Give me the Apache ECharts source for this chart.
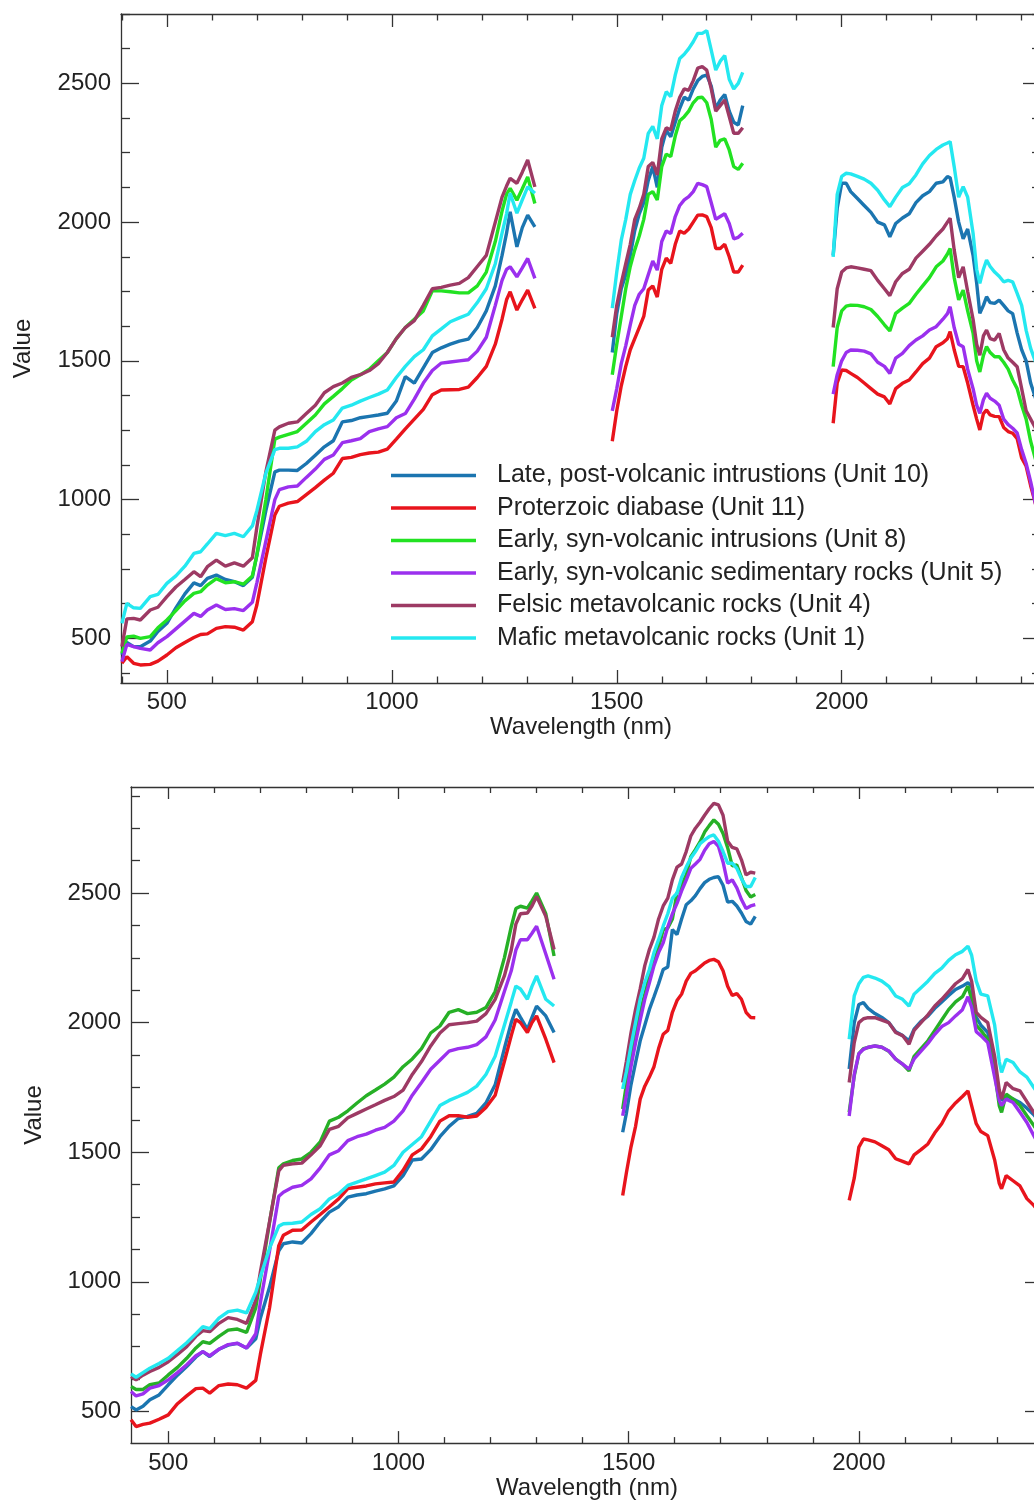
<!DOCTYPE html>
<html><head><meta charset="utf-8">
<script src="https://cdn.jsdelivr.net/npm/echarts@6/dist/echarts.min.js"></script>
<style>html,body{margin:0;padding:0;background:#fff;overflow:hidden}#c{width:1100px;height:1501px}</style>
</head><body><div id="c"></div>
<script>
// ---------- labels ----------
const seriesNames = [
  'Late, post-volcanic intrustions (Unit 10)',
  'Proterzoic diabase (Unit 11)',
  'Early, syn-volcanic intrusions (Unit 8)',
  'Early, syn-volcanic sedimentary rocks (Unit 5)',
  'Felsic metavolcanic rocks (Unit 4)',
  'Mafic metavolcanic rocks (Unit 1)'
];
const xTitle = 'Wavelength (nm)';
const yTitle = 'Value';

// ---------- tick values ----------
const xMajorTicks = [500, 1000, 1500, 2000];
const xMinorTicksTop = [400, 600, 700, 800, 900, 1100, 1200, 1300, 1400, 1600, 1700, 1800, 1900, 2100, 2200, 2300, 2400];
const xMinorTicksBottom = [600, 700, 800, 900, 1100, 1200, 1300, 1400, 1600, 1700, 1800, 1900, 2100, 2200, 2300];
const yMajorTicks = [500, 1000, 1500, 2000, 2500];
const yMinorTicksTop = [375, 625, 750, 875, 1125, 1250, 1375, 1625, 1750, 1875, 2125, 2250, 2375, 2625, 2750];
const yMinorTicksBottom = [625, 750, 875, 1125, 1250, 1375, 1625, 1750, 1875, 2125, 2250, 2375, 2625, 2750, 2875];

// ---------- top panel wavelengths (gaps marked by null values) ----------
const wlTop = [
  400, 411, 426, 441, 463, 480, 500, 520, 540, 560, 575, 590, 610, 630, 650, 670, 690, 700, 720, 740,
  750, 770, 790, 810, 830, 850, 870, 890, 910, 930, 950, 970, 990, 1010, 1030, 1050, 1070, 1090, 1110, 1130,
  1150, 1170, 1190, 1210, 1230, 1245, 1255, 1263, 1278, 1290, 1302, 1318,
  1400,
  1490, 1500, 1510, 1520, 1530, 1540, 1550, 1560, 1570, 1580, 1590, 1600, 1610, 1620, 1630, 1640, 1650, 1660, 1670, 1680,
  1690, 1700, 1710, 1720, 1730, 1740, 1750, 1760, 1770, 1780,
  1880,
  1981, 1990, 2000, 2010, 2020, 2035, 2050, 2065, 2080, 2095, 2107, 2120, 2135, 2150, 2165, 2180, 2195, 2210, 2225, 2235,
  2241, 2250, 2260, 2270, 2280, 2292, 2300, 2307, 2315, 2322, 2330, 2340, 2350, 2360, 2370, 2380, 2390, 2400, 2410, 2420,
  2430, 2443
];
const topUnit10 = [
  440, 485, 470, 470, 490, 525, 554, 610, 660, 700, 690, 716, 728, 712, 704, 690, 720, 800, 960, 1100,
  1106, 1106, 1105, 1130, 1160, 1190, 1212, 1280, 1285, 1295, 1300, 1305, 1311, 1355, 1443, 1420, 1475, 1530, 1547, 1560,
  1571, 1578, 1620, 1680, 1770, 1880, 1960, 2037, 1911, 1980, 2025, 1983,
  null,
  1530, 1670, 1760, 1810, 1880, 1970, 2030, 2070, 2150, 2200, 2125, 2270, 2330, 2308, 2360, 2410, 2450, 2440, 2480, 2510,
  2525, 2530, 2490, 2410, 2440, 2460, 2400, 2360, 2350, 2420,
  null,
  1880, 2050, 2140, 2140, 2110, 2085, 2060, 2035, 2000, 1990, 1947, 1995, 2015, 2030, 2070, 2095, 2110, 2140, 2145, 2164,
  2160, 2090, 2000, 1940, 1975, 1880, 1780, 1671, 1700, 1731, 1710, 1707, 1719, 1700, 1680, 1670, 1600, 1540, 1500, 1420,
  1370, 1300
];
const topUnit11 = [
  410, 434, 410, 404, 406, 418, 440, 466, 485, 503, 514, 516, 536, 542, 540, 530, 560, 620, 790, 945,
  976, 987, 993, 1018, 1043, 1070, 1095, 1148, 1152, 1162, 1168, 1171, 1182, 1218, 1255, 1290, 1325, 1378, 1395, 1396,
  1397, 1405, 1440, 1480, 1560, 1650, 1720, 1749, 1683, 1720, 1755, 1689,
  null,
  1210, 1320, 1410, 1480, 1540, 1580, 1620, 1660, 1755, 1770, 1730, 1830, 1870, 1851, 1920, 1968, 1960, 1975, 2000, 2025,
  2026, 2020, 1980, 1905, 1905, 1920, 1875, 1820, 1820, 1845,
  null,
  1275, 1420, 1467, 1465, 1455, 1440, 1420, 1400, 1380, 1370, 1345, 1400, 1419, 1431, 1460, 1490, 1510, 1551, 1565, 1580,
  1605, 1540, 1480, 1479, 1420, 1340, 1290, 1251, 1310, 1323, 1305, 1300, 1299, 1260, 1245, 1239, 1220, 1150, 1120, 1050,
  990, 900
];
const topUnit8 = [
  446, 505, 508, 500, 506, 538, 566, 600, 635, 662, 668, 692, 715, 700, 704, 695, 725, 800, 1000, 1218,
  1225, 1235, 1245, 1275, 1305, 1345, 1372, 1400, 1431, 1450, 1470, 1500, 1530, 1580, 1620, 1650, 1680, 1752, 1752, 1749,
  1745, 1745, 1770, 1820, 1930, 2040, 2100, 2122, 2079, 2120, 2163, 2067,
  null,
  1450, 1560, 1660, 1760, 1840, 1900, 1950, 2010, 2100, 2110, 2080, 2200, 2245, 2236, 2310, 2365, 2380, 2400, 2430, 2448,
  2450, 2430, 2370, 2270, 2295, 2300, 2260, 2200, 2190, 2212,
  null,
  1479, 1620, 1680, 1697, 1701, 1700, 1695, 1685, 1660, 1630, 1608, 1671, 1690, 1707, 1740, 1770, 1800, 1839, 1860, 1885,
  1905, 1800, 1720, 1755, 1680, 1600, 1500, 1460, 1520, 1551, 1530, 1515, 1515, 1495, 1470, 1431, 1400, 1340, 1290, 1210,
  1150, 1080
];
const topUnit5 = [
  416, 478, 470, 464, 458, 484, 506, 534, 562, 590, 579, 602, 620, 604, 607, 600, 630, 700, 850, 1000,
  1036, 1046, 1049, 1080, 1110, 1145, 1161, 1205, 1212, 1220, 1245, 1255, 1263, 1295, 1310, 1362, 1420, 1465, 1492, 1496,
  1500, 1504, 1535, 1585, 1700, 1790, 1830, 1839, 1803, 1835, 1869, 1797,
  null,
  1320, 1400, 1490, 1555, 1630, 1700, 1740, 1760, 1810, 1860, 1827, 1930, 1968, 1959, 2020, 2060, 2080, 2092, 2110, 2140,
  2135, 2128, 2070, 2010, 2020, 2030, 1995, 1940, 1945, 1960,
  null,
  1380, 1450, 1500, 1530, 1539, 1538, 1535, 1525, 1495, 1480, 1455, 1510, 1527, 1555, 1575, 1590, 1611, 1623, 1650, 1670,
  1695, 1620, 1560, 1551, 1470, 1400, 1340, 1311, 1360, 1383, 1365, 1355, 1340, 1290, 1270, 1257, 1240, 1180, 1130, 1065,
  990, 900
];
const topUnit4 = [
  470, 570, 572, 566, 602, 612, 650, 685, 712, 740, 722, 758, 782, 760, 772, 760, 790, 900, 1100, 1250,
  1262, 1275, 1280, 1310, 1340, 1385, 1407, 1420, 1440, 1450, 1465, 1490, 1530, 1580, 1620, 1645, 1700, 1760, 1765, 1773,
  1779, 1800, 1840, 1880, 2000, 2090, 2130, 2158, 2140, 2180, 2224, 2127,
  null,
  1585, 1700, 1780, 1850, 1920, 2010, 2050, 2100, 2200, 2215, 2170, 2300, 2340, 2332, 2400, 2450, 2480, 2475, 2510, 2555,
  2560, 2548, 2480, 2400, 2420, 2440, 2380, 2320, 2320, 2340,
  null,
  1620, 1760, 1820, 1835, 1839, 1835, 1830, 1825, 1790, 1760, 1735, 1785, 1815, 1830, 1870, 1895, 1920, 1950, 1975, 2000,
  2014, 1900, 1800, 1839, 1750, 1650, 1560, 1520, 1590, 1611, 1580, 1575, 1599, 1540, 1510, 1495, 1479, 1400, 1320, 1290,
  1260, 1200
];
const topUnit1 = [
  554, 626, 610, 608, 650, 658, 698, 725, 760, 806, 812, 840, 878, 870, 878, 866, 905, 960, 1095, 1180,
  1185, 1185, 1190, 1210, 1245, 1270, 1287, 1330, 1340, 1355, 1368, 1380, 1395, 1440, 1480, 1515, 1540, 1590, 1615, 1641,
  1655, 1668, 1710, 1760, 1850, 1960, 2030, 2104, 2032, 2080, 2127, 2104,
  null,
  1690, 1820, 1935, 2010, 2100, 2150, 2195, 2230, 2320, 2345, 2300, 2420, 2470, 2452, 2530, 2590, 2605, 2625, 2650, 2680,
  2680, 2690, 2620, 2548, 2580, 2600, 2515, 2480, 2500, 2540,
  null,
  1875, 2100, 2165, 2176, 2174, 2165, 2155, 2140, 2115, 2080, 2056, 2090, 2125, 2138, 2170, 2210, 2240, 2262, 2278, 2285,
  2290, 2200, 2090, 2128, 2090, 1960, 1830, 1779, 1830, 1863, 1840, 1820, 1805, 1785, 1790, 1785, 1743, 1700, 1610, 1545,
  1500, 1450
];

// ---------- bottom panel ----------
const wlBottom = [
  419, 430, 445, 460, 480, 500, 520, 540, 560, 575, 590, 610, 630, 650, 670, 690, 700, 720, 740, 750,
  770, 790, 810, 830, 850, 870, 890, 910, 930, 950, 970, 990, 1010, 1030, 1050, 1070, 1090, 1110, 1130, 1150,
  1170, 1190, 1210, 1230, 1245, 1255, 1265, 1280, 1290, 1300, 1320, 1338,
  1400,
  1487, 1495, 1505, 1515, 1525, 1535, 1545, 1555, 1565, 1575, 1585, 1595, 1605, 1615, 1625, 1635, 1645, 1655, 1665, 1675,
  1685, 1695, 1705, 1715, 1725, 1735, 1745, 1755, 1765, 1775,
  1880,
  1979, 1990, 2000, 2010, 2020, 2035, 2050, 2065, 2080, 2095, 2109, 2120, 2135, 2150, 2165, 2180, 2195, 2210, 2225, 2237,
  2245, 2255, 2265, 2280, 2295, 2305, 2310, 2320, 2335, 2350, 2365, 2380, 2400
];
const botUnit10 = [
  519, 506, 520, 545, 564, 603, 640, 673, 710, 731, 712, 740, 756, 763, 745, 780, 860, 980, 1120, 1147,
  1154, 1150, 1186, 1231, 1269, 1290, 1327, 1335, 1340, 1350, 1359, 1370, 1410, 1470, 1474, 1510, 1560, 1600, 1630, 1638,
  1650, 1690, 1760, 1900, 2000, 2051, 2020, 1974, 2020, 2064, 2026, 1962,
  null,
  1577, 1650, 1760, 1846, 1930, 1990, 2051, 2100, 2150, 2205, 2215, 2359, 2340, 2400, 2455, 2470, 2490, 2517, 2540, 2553,
  2560, 2563, 2530, 2465, 2468, 2450, 2423, 2390, 2380, 2410,
  null,
  1821, 2000, 2070, 2077, 2055, 2035, 2020, 2000, 1965, 1950, 1930, 1975, 2005, 2025, 2055, 2080, 2105, 2128, 2141, 2154,
  2140, 2020, 1990, 1962, 1830, 1720, 1700, 1718, 1705, 1692, 1670, 1645, 1600
];
const botUnit11 = [
  468, 442, 450, 455, 470, 487, 530, 560, 588, 590, 571, 600, 606, 603, 590, 620, 720, 900, 1140, 1180,
  1199, 1200, 1231, 1260, 1290, 1320, 1360, 1365, 1370, 1378, 1382, 1385, 1430, 1490, 1513, 1560, 1620, 1641, 1641, 1635,
  1640, 1673, 1720, 1850, 1950, 2013, 2000, 1962, 2000, 2026, 1936, 1846,
  null,
  1333, 1420, 1520, 1600, 1705, 1755, 1790, 1830, 1900, 1955, 1970, 2040, 2085, 2110, 2160, 2190, 2200, 2215, 2230, 2240,
  2244, 2235, 2200, 2140, 2105, 2112, 2090, 2040, 2020, 2019,
  null,
  1314, 1400, 1520, 1551, 1548, 1540, 1525, 1510, 1475, 1465, 1455, 1490, 1510, 1532, 1575, 1610, 1660, 1690, 1715, 1737,
  1680, 1610, 1580, 1564, 1470, 1380, 1359, 1410, 1390, 1370, 1321, 1295, 1250
];
const botUnit8 = [
  596, 585, 585, 603, 610, 641, 670, 705, 745, 769, 763, 790, 814, 818, 805, 900, 1010, 1230, 1440, 1455,
  1468, 1474, 1500, 1540, 1620, 1635, 1660, 1690, 1718, 1740, 1763, 1790, 1830, 1860, 1900, 1960, 1987, 2040, 2050, 2035,
  2040, 2058, 2120, 2250, 2370, 2440, 2449, 2442, 2470, 2500, 2420, 2257,
  null,
  1667, 1760, 1860, 1949, 2040, 2110, 2179, 2230, 2290, 2359, 2365, 2400, 2500, 2530, 2570, 2640, 2667, 2697, 2735, 2760,
  2782, 2765, 2730, 2675, 2605, 2608, 2560, 2510, 2485, 2494,
  null,
  1654, 1795, 1880, 1900, 1904, 1910, 1905, 1890, 1859, 1840, 1814, 1870, 1900, 1930, 1970, 2010, 2050, 2080, 2100, 2141,
  2090, 1990, 1970, 1936, 1810, 1680, 1654, 1724, 1705, 1680, 1641, 1603, 1550
];
const botUnit5 = [
  577, 560, 568, 590, 600, 622, 650, 680, 715, 731, 715, 740, 758, 763, 745, 800, 920, 1120, 1330, 1346,
  1365, 1372, 1397, 1440, 1490, 1506, 1545, 1560, 1570, 1585, 1596, 1620, 1660, 1720, 1769, 1820, 1855, 1890, 1900, 1905,
  1915, 1945, 2010, 2120, 2200, 2280, 2320, 2320, 2345, 2372, 2265, 2167,
  null,
  1641, 1720, 1830, 1923, 2010, 2090, 2154, 2220, 2270, 2308, 2370, 2420, 2460, 2508, 2550, 2595, 2612, 2630, 2665, 2690,
  2699, 2680, 2620, 2538, 2551, 2520, 2475, 2440, 2450, 2455,
  null,
  1640, 1800, 1880, 1897, 1905, 1910, 1905, 1891, 1859, 1840, 1821, 1860, 1890, 1920, 1955, 1985, 2000, 2026, 2050, 2100,
  2060, 1965, 1950, 1923, 1790, 1700, 1680, 1705, 1692, 1654, 1615, 1564, 1500
];
const botUnit4 = [
  635, 622, 640, 654, 670, 692, 720, 750, 790, 812, 808, 840, 862, 855, 840, 930, 1038, 1233, 1428, 1450,
  1455, 1458, 1490, 1525, 1588, 1600, 1633, 1650, 1667, 1683, 1700, 1715, 1740, 1800, 1850, 1910, 1960, 1992, 1996, 2000,
  2006, 2035, 2090, 2180, 2280, 2380, 2420, 2423, 2450, 2487, 2410, 2282,
  null,
  1769, 1850, 1960, 2051, 2130, 2220, 2282, 2330, 2400, 2450, 2480, 2551, 2600, 2612, 2660, 2720, 2750, 2773, 2800, 2825,
  2846, 2840, 2800, 2700, 2676, 2670, 2628, 2570, 2580, 2577,
  null,
  1769, 1923, 2000, 2015, 2019, 2019, 2010, 2000, 1962, 1950, 1917, 1970, 2000, 2030, 2064, 2090, 2120, 2150, 2170, 2205,
  2160, 2040, 2020, 2000, 1870, 1740, 1705, 1769, 1745, 1737, 1695, 1654, 1600
];
const botUnit1 = [
  645, 632, 650, 667, 685, 705, 735, 765, 800, 827, 820, 860, 885, 891, 880, 960, 1020, 1130, 1215, 1224,
  1226, 1231, 1260, 1282, 1320, 1340, 1372, 1385, 1397, 1410, 1423, 1449, 1500, 1530, 1560, 1620, 1680, 1700, 1715, 1731,
  1755, 1800, 1870, 1990, 2080, 2141, 2130, 2090, 2140, 2180, 2090, 2064,
  null,
  1744, 1810, 1910, 2000, 2090, 2155, 2205, 2270, 2320, 2372, 2420, 2480, 2500, 2560, 2600, 2635, 2660, 2690, 2705, 2718,
  2724, 2700, 2660, 2615, 2615, 2595, 2555, 2525, 2525, 2560,
  null,
  1936, 2103, 2150, 2175, 2180, 2172, 2160, 2140, 2103, 2090, 2064, 2110, 2135, 2160, 2190, 2210, 2240, 2262, 2275, 2295,
  2260, 2160, 2110, 2103, 1990, 1850, 1808, 1859, 1846, 1810, 1790, 1750, 1700
];

const colorsTop = ['#1b75b0', '#e8141c', '#22e222', '#9b30ee', '#9d3a64', '#24e8f0'];
const colorsBottom = ['#1b75b0', '#e8141c', '#26b026', '#9b30ee', '#9d3a64', '#24e8f0'];

// ---------- build ----------
const FONT = '"Liberation Sans", Arial, Helvetica, sans-serif';
const AX = '#333';
const plain = v => String(v);

function xAx(grid, min, max, position, ticks, len, showLine, labelMargin, name, nameGap) {
  return {
    type: 'value', gridIndex: grid, min: min, max: max, position: position,
    axisLine: {show: showLine, onZero: false, lineStyle: {color: AX, width: 1.3}},
    axisTick: {show: true, inside: true, length: len, customValues: ticks, lineStyle: {color: AX, width: 1.3}},
    axisLabel: labelMargin != null
      ? {show: true, customValues: ticks, margin: labelMargin, color: '#222', fontSize: 24, fontFamily: FONT, formatter: plain}
      : {show: false},
    splitLine: {show: false},
    name: name || '', nameLocation: 'middle', nameGap: nameGap || 0,
    nameTextStyle: {color: '#222', fontSize: 24, fontFamily: FONT}
  };
}
function yAx(grid, min, max, position, ticks, len, showLine, labelMargin, name, nameGap) {
  return {
    type: 'value', gridIndex: grid, min: min, max: max, position: position,
    axisLine: {show: showLine, onZero: false, lineStyle: {color: AX, width: 1.3}},
    axisTick: {show: true, inside: true, length: len, customValues: ticks, lineStyle: {color: AX, width: 1.3}},
    axisLabel: labelMargin != null
      ? {show: true, customValues: ticks, margin: labelMargin, color: '#222', fontSize: 24, fontFamily: FONT, formatter: plain}
      : {show: false},
    splitLine: {show: false},
    name: name || '', nameLocation: 'middle', nameGap: nameGap || 0, nameRotate: 90,
    nameTextStyle: {color: '#222', fontSize: 24, fontFamily: FONT}
  };
}

const TX = [398, 2443], TY = [339, 2750];
const BX = [419, 2400], BY = [378, 2909];

const xAxes = [
  xAx(0, TX[0], TX[1], 'bottom', xMajorTicks, 13, true, 7, xTitle, 23),
  xAx(0, TX[0], TX[1], 'bottom', xMinorTicksTop, 6.5, false, null),
  xAx(0, TX[0], TX[1], 'top', xMajorTicks, 13, true, null),
  xAx(0, TX[0], TX[1], 'top', xMinorTicksTop, 6.5, false, null),
  xAx(1, BX[0], BX[1], 'bottom', xMajorTicks, 12, true, 8, xTitle, 27),
  xAx(1, BX[0], BX[1], 'bottom', xMinorTicksBottom, 6, false, null),
  xAx(1, BX[0], BX[1], 'top', xMajorTicks, 12, true, null),
  xAx(1, BX[0], BX[1], 'top', xMinorTicksBottom, 6, false, null)
];
const yAxes = [
  yAx(0, TY[0], TY[1], 'left', yMajorTicks, 18, true, 10, yTitle, 86),
  yAx(0, TY[0], TY[1], 'left', yMinorTicksTop, 9, false, null),
  yAx(0, TY[0], TY[1], 'right', yMajorTicks, 18, true, null),
  yAx(0, TY[0], TY[1], 'right', yMinorTicksTop, 9, false, null),
  yAx(1, BY[0], BY[1], 'left', yMajorTicks, 18, true, 10, yTitle, 85),
  yAx(1, BY[0], BY[1], 'left', yMinorTicksBottom, 9, false, null),
  yAx(1, BY[0], BY[1], 'right', yMajorTicks, 18, true, null),
  yAx(1, BY[0], BY[1], 'right', yMinorTicksBottom, 9, false, null)
];

function pairs(wl, vals) {
  return wl.map((w, i) => [w, vals[i] == null ? '-' : vals[i]]);
}
const topVals = [topUnit10, topUnit11, topUnit8, topUnit5, topUnit4, topUnit1];
const botVals = [botUnit10, botUnit11, botUnit8, botUnit5, botUnit4, botUnit1];

const series = [];
topVals.forEach((v, i) => series.push({
  type: 'line', name: seriesNames[i], xAxisIndex: 0, yAxisIndex: 0,
  data: pairs(wlTop, v), showSymbol: false, symbol: 'none', connectNulls: false,
  lineStyle: {width: 3.4, color: colorsTop[i]}, itemStyle: {color: colorsTop[i]}, z: 2 + i
}));
botVals.forEach((v, i) => series.push({
  type: 'line', name: seriesNames[i], xAxisIndex: 4, yAxisIndex: 4,
  data: pairs(wlBottom, v), showSymbol: false, symbol: 'none', connectNulls: false,
  lineStyle: {width: 3.4, color: colorsBottom[i]}, itemStyle: {color: colorsBottom[i]}, z: 2 + i
}));

const chart = echarts.init(document.getElementById('c'), null, {renderer: 'canvas'});
chart.setOption({
  animation: false,
  backgroundColor: '#fff',
  grid: [
    {left: 121, top: 14, width: 920, height: 669, containLabel: false},
    {left: 131, top: 787, width: 912, height: 658, containLabel: false}
  ],
  legend: {
    orient: 'vertical', left: 391, top: 463, padding: 0,
    icon: 'rect', itemWidth: 85, itemHeight: 3.4, itemGap: 7.5,
    textStyle: {fontSize: 25, fontFamily: FONT, color: '#222', lineHeight: 25, padding: [0, 0, 0, 16]},
    data: seriesNames
  },
  xAxis: xAxes,
  yAxis: yAxes,
  series: series
});
</script>
</body></html>
